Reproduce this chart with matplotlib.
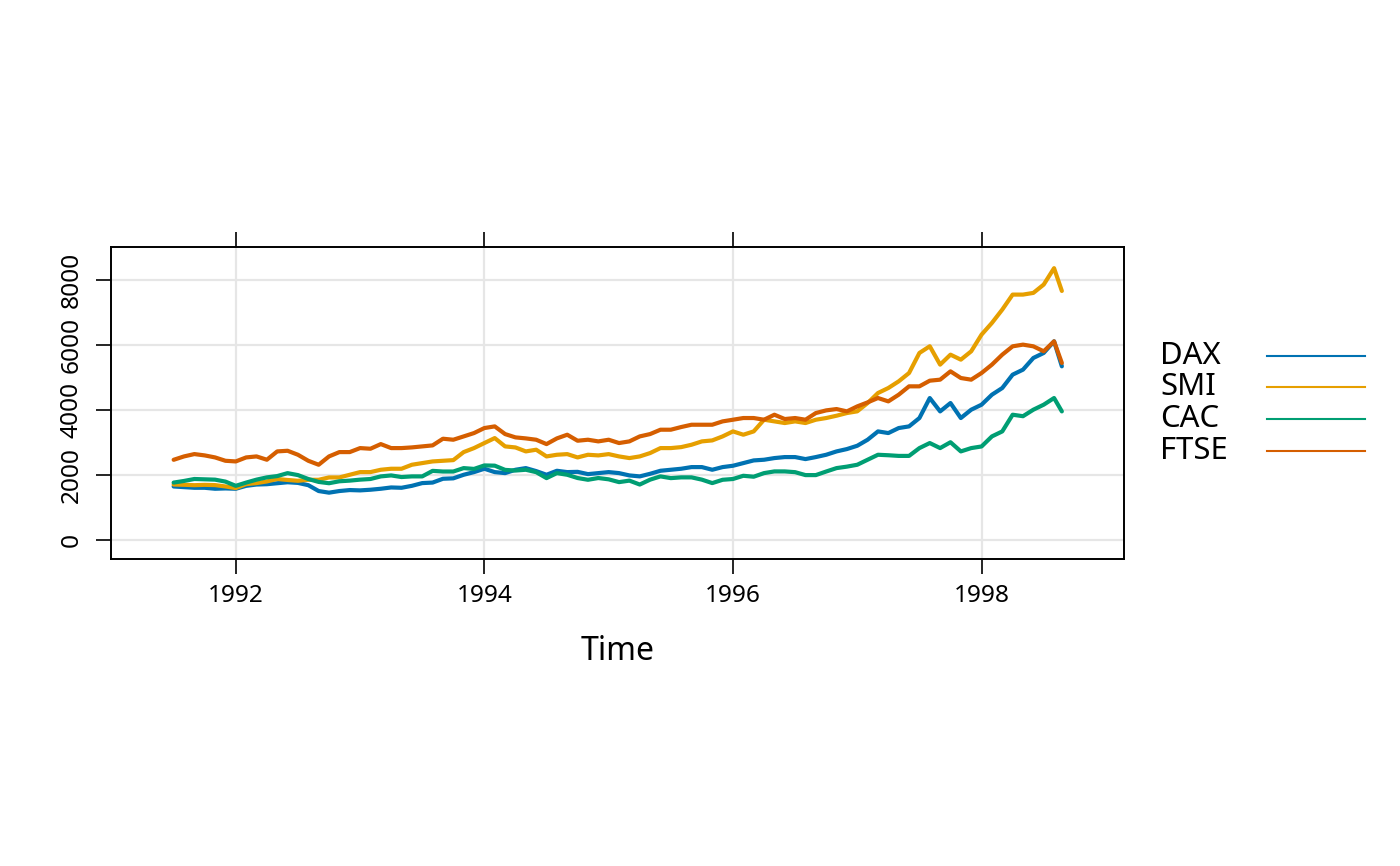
import numpy as np
import matplotlib
matplotlib.use("Agg")
import matplotlib.pyplot as plt
from matplotlib.lines import Line2D

plt.rcParams['font.family'] = ['Noto Sans', 'DejaVu Sans']

series_names = ["DAX", "SMI", "CAC", "FTSE"]
colors = ["#0072B2", "#E69F00", "#009E73", "#D55E00"]
x_ticks = [1992, 1994, 1996, 1998]
y_ticks = [0, 2000, 4000, 6000, 8000]

# monthly readings from mid-1991, plus final observation
time = np.append(1991.5 + np.arange(86) / 12, 1998.646)

dax = [1640, 1620, 1600, 1600, 1570, 1580, 1570, 1660, 1700, 1710, 1740, 1770,
       1750, 1680, 1500, 1450, 1500, 1530, 1520, 1540, 1570, 1610, 1600, 1660,
       1744, 1760, 1877, 1890, 2000, 2082, 2185, 2082, 2051, 2154, 2205, 2113,
       2000, 2123, 2082, 2090, 2020, 2051, 2082, 2051, 1980, 1950, 2030, 2123,
       2154, 2185, 2236, 2236, 2154, 2236, 2277, 2359, 2441, 2462, 2513, 2544,
       2544, 2482, 2544, 2615, 2718, 2790, 2892, 3077, 3333, 3282, 3436, 3487,
       3744, 4359, 3948, 4205, 3744, 4000, 4154, 4461, 4667, 5077, 5231, 5590, 5744, 6102,
       5333]

smi = [1700, 1692, 1680, 1690, 1682, 1641, 1590, 1713, 1744, 1795, 1870, 1840,
       1815, 1846, 1846, 1918, 1918, 2000, 2082, 2082, 2154, 2185, 2185, 2308,
       2359, 2410, 2430, 2450, 2697, 2820, 2975, 3128, 2872, 2840, 2718, 2770,
       2564, 2615, 2635, 2533, 2615, 2595, 2635, 2564, 2513, 2564, 2667, 2820,
       2820, 2850, 2923, 3026, 3056, 3179, 3333, 3231, 3333, 3692, 3641, 3590,
       3641, 3590, 3692, 3744, 3815, 3897, 3950, 4205, 4513, 4667, 4872, 5128,
       5744, 5950, 5385, 5692, 5538, 5795, 6308, 6667, 7077, 7538, 7538, 7590, 7846, 8350,
       7650]

cac = [1760, 1810, 1870, 1860, 1850, 1790, 1660, 1760, 1850, 1920, 1960, 2050,
       1990, 1870, 1780, 1740, 1800, 1820, 1850, 1870, 1950, 1980, 1930, 1950,
       1950, 2120, 2100, 2100, 2205, 2180, 2287, 2280, 2150, 2130, 2154, 2080,
       1897, 2051, 2000, 1900, 1846, 1900, 1860, 1774, 1820, 1700, 1850, 1950,
       1897, 1920, 1920, 1850, 1744, 1846, 1870, 1969, 1940, 2051, 2103, 2103,
       2080, 1990, 1990, 2100, 2205, 2250, 2308, 2462, 2615, 2600, 2580, 2580,
       2820, 2975, 2820, 3000, 2718, 2820, 2870, 3179, 3333, 3846, 3800, 4000, 4154, 4359,
       3948]

ftse = [2460, 2564, 2636, 2595, 2533, 2430, 2410, 2533, 2564, 2462, 2718, 2738,
        2615, 2430, 2308, 2564, 2697, 2697, 2820, 2800, 2943, 2820, 2820, 2841,
        2872, 2903, 3108, 3077, 3179, 3282, 3436, 3487, 3251, 3149, 3118, 3077,
        2943, 3118, 3231, 3046, 3077, 3026, 3077, 2975, 3026, 3179, 3251, 3385,
        3385, 3467, 3538, 3538, 3538, 3641, 3692, 3744, 3744, 3692, 3846, 3713,
        3744, 3692, 3897, 3979, 4020, 3948, 4102, 4225, 4359, 4256, 4461, 4718,
        4718, 4892, 4923, 5179, 4974, 4923, 5128, 5385, 5692, 5948, 6000, 5948, 5795, 6102,
        5436]

values = [dax, smi, cac, ftse]

W, H = 1400, 866
fig = plt.figure(figsize=(7, 4.33), dpi=200)
ax = fig.add_axes([111 / W, 1 - 559 / H, (1124 - 111) / W, (559 - 247) / H])

for name, vals, c in zip(series_names, values, colors):
    ax.plot(time, vals, color=c, lw=1.5, solid_joinstyle='round', solid_capstyle='round')

ax.set_xlim(1990.996, 1999.146)
ax.set_ylim(-589, 9001)
ax.set_xticks(x_ticks)
ax.set_yticks(y_ticks)
ax.grid(True, color='#E6E6E6', lw=0.8)
ax.set_axisbelow(True)
for s in ax.spines.values():
    s.set_linewidth(0.7)
ax.tick_params(axis='x', top=True, bottom=True, direction='out', length=5.4,
               width=0.6, labelsize=8.8, pad=3.5)
ax.tick_params(axis='y', left=True, right=False, direction='out', length=5.4,
               width=0.6, labelsize=8.8, pad=4.5)
for lab in ax.get_yticklabels():
    lab.set_rotation(90)
    lab.set_va('center')
    lab.set_ha('right')

fig.text(617.5 / W, 1 - 652 / H, "Time", fontsize=11.5, ha='center', va='center')

leg_y = [356, 387, 419, 451]
for name, c, yy in zip(series_names, colors, leg_y):
    fig.text(1160 / W, 1 - yy / H, name, fontsize=11.2, ha='left', va='center')
    fig.add_artist(Line2D([1267 / W, 1365 / W], [1 - yy / H, 1 - yy / H],
                          transform=fig.transFigure, color=c, lw=0.75))

fig.savefig("out.png", dpi=200)
